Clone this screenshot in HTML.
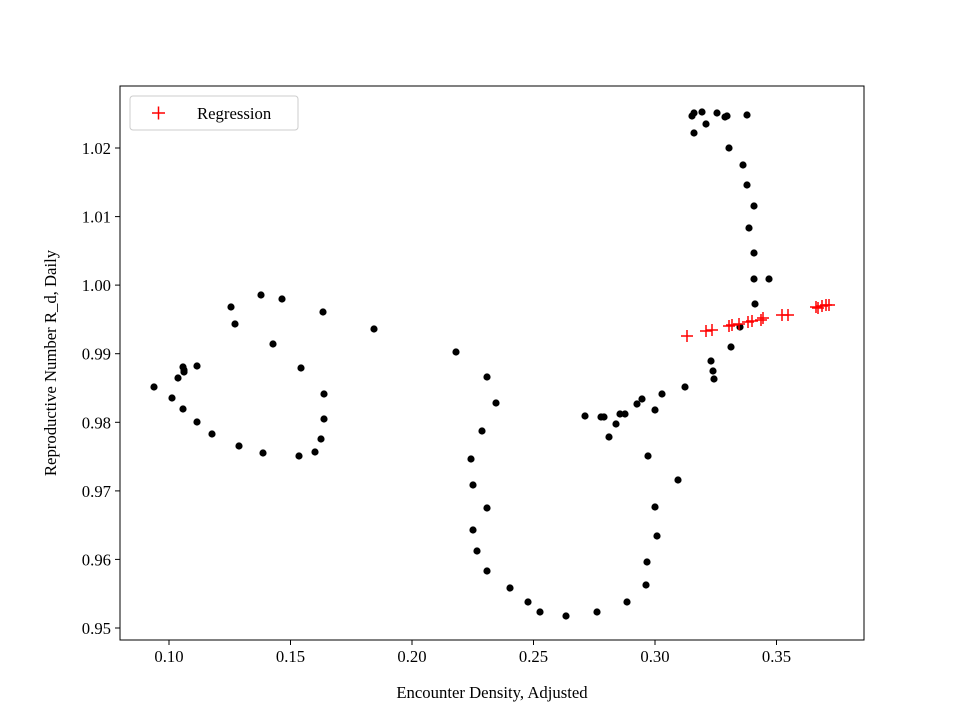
<!DOCTYPE html>
<html><head><meta charset="utf-8"><style>
html,body{margin:0;padding:0;background:#fff}
svg text{font-family:"Liberation Serif","DejaVu Serif",serif;font-size:16.7px;fill:#000}
</style></head><body>
<svg width="960" height="720" viewBox="0 0 960 720" xmlns="http://www.w3.org/2000/svg">
<rect width="960" height="720" fill="#fff"/>
<g id="dots" fill="#000"></g>
<g id="plus" stroke="#f00" stroke-width="1.5"></g>
<rect x="120" y="86" width="744" height="554" fill="none" stroke="#000" stroke-width="1"/>
<g stroke="#000" stroke-width="1">
<line x1="169" y1="640" x2="169" y2="645"/><line x1="290.5" y1="640" x2="290.5" y2="645"/><line x1="412" y1="640" x2="412" y2="645"/><line x1="533.5" y1="640" x2="533.5" y2="645"/><line x1="655" y1="640" x2="655" y2="645"/><line x1="776.5" y1="640" x2="776.5" y2="645"/>
<line x1="115" y1="628" x2="120" y2="628"/><line x1="115" y1="559.4" x2="120" y2="559.4"/><line x1="115" y1="490.9" x2="120" y2="490.9"/><line x1="115" y1="422.3" x2="120" y2="422.3"/><line x1="115" y1="353.7" x2="120" y2="353.7"/><line x1="115" y1="285.1" x2="120" y2="285.1"/><line x1="115" y1="216.6" x2="120" y2="216.6"/><line x1="115" y1="148" x2="120" y2="148"/>
</g>
<g text-anchor="middle">
<text x="169" y="662">0.10</text><text x="290.5" y="662">0.15</text><text x="412" y="662">0.20</text><text x="533.5" y="662">0.25</text><text x="655" y="662">0.30</text><text x="776.5" y="662">0.35</text>
<text x="492" y="698">Encounter Density, Adjusted</text>
</g>
<g text-anchor="end">
<text x="111" y="634">0.95</text><text x="111" y="565.4">0.96</text><text x="111" y="496.9">0.97</text><text x="111" y="428.3">0.98</text><text x="111" y="359.7">0.99</text><text x="111" y="291.1">1.00</text><text x="111" y="222.6">1.01</text><text x="111" y="154">1.02</text>
</g>
<text transform="translate(56,363) rotate(-90)" text-anchor="middle">Reproductive Number R_d, Daily</text>
<rect x="130" y="96" width="168" height="34" rx="3" fill="#fff" stroke="#ccc"/>
<g stroke="#f00" stroke-width="1.5"><line x1="152" y1="113" x2="165" y2="113"/><line x1="158.5" y1="106.5" x2="158.5" y2="119.5"/></g>
<text x="197" y="119">Regression</text>
<script>
var d=[[154,387],[172,398],[178,378],[183,367],[184,370],[184,372],[183,409],[197,366],[197,422],[212,434],[239,446],[263,453],[299,456],[315,452],[321,439],[324,419],[324,394],[301,368],[323,312],[282,299],[273,344],[235,324],[231,307],[261,295],[374,329],
[456,352],[487,377],[496,403],[482,431],[471,459],[473,485],[487,508],[473,530],[477,551],[487,571],[510,588],[528,602],[540,612],[566,616],[597,612],[627,602],[646,585],[647,562],[657,536],[655,507],[648,456],[678,480],[655,410],[662,394],[642,399],[637,404],[625,414],[620,414],[616,424],[609,437],[601,417],[604,417],[585,416],[685,387],[711,361],[714,379],[713,371],[731,347],[740,327],[755,304],[754,279],[754,253],[749,228],[747,185],[743,165],[729,148],[706,124],[694,133],[692,116],[694,113],[702,112],[717,113],[727,116],[725,117],[747,115],[769,279],[754,206]];
var p=[[687,336],[706,331],[712,330],[729,326],[732,325],[739,324],[748,322],[752,321],[761,320],[763,318],[782,315],[788,315],[816,307],[818,308],[822,306],[829,305],[826,305]];
var ns="http://www.w3.org/2000/svg",g=document.getElementById('dots'),h=document.getElementById('plus');
d.forEach(function(a){var c=document.createElementNS(ns,'circle');c.setAttribute('cx',a[0]);c.setAttribute('cy',a[1]);c.setAttribute('r',3.6);g.appendChild(c);});
p.forEach(function(a){var l=document.createElementNS(ns,'path');l.setAttribute('d','M'+(a[0]-6)+' '+a[1]+'h12M'+a[0]+' '+(a[1]-6)+'v12');h.appendChild(l);});
</script>
</svg>
</body></html>
